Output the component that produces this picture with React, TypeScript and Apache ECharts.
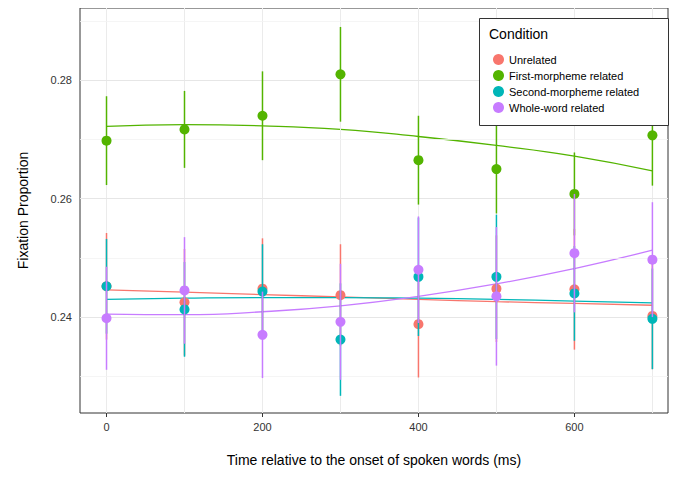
import { useEffect, useRef } from 'react';
import * as echarts from 'echarts';

const times = [0, 100, 200, 300, 400, 500, 600, 700];
const conditions = ['Unrelated', 'First-morpheme related', 'Second-morpheme related', 'Whole-word related'];
const colors = ['#F8766D', '#53B400', '#00B6B8', '#C77CFF'];

const meanUnrelated = [0.2452, 0.2425, 0.2448, 0.2437, 0.2388, 0.2448, 0.2447, 0.2402];
const errUnrelated = [0.009, 0.009, 0.0085, 0.0086, 0.009, 0.009, 0.0102, 0.009];
const meanFirst = [0.2698, 0.2717, 0.2740, 0.2810, 0.2665, 0.2650, 0.2608, 0.2707];
const errFirst = [0.0075, 0.0065, 0.0075, 0.008, 0.0075, 0.0075, 0.007, 0.0085];
const meanSecond = [0.2452, 0.2413, 0.2443, 0.2362, 0.2468, 0.2468, 0.2440, 0.2397];
const errSecond = [0.008, 0.008, 0.008, 0.0095, 0.01, 0.0105, 0.008, 0.0085];
const meanWhole = [0.2398, 0.2445, 0.2370, 0.2392, 0.2480, 0.2435, 0.2508, 0.2497];
const errWhole = [0.0087, 0.009, 0.0073, 0.0098, 0.009, 0.0117, 0.01, 0.0097];

const fitUnrelated = [0.2446, 0.2442, 0.2438, 0.2434, 0.2430, 0.2426, 0.2423, 0.2420];
const fitFirst = [0.2722, 0.2725, 0.2723, 0.2717, 0.2705, 0.2690, 0.2672, 0.2647];
const fitSecond = [0.2430, 0.2432, 0.2433, 0.2433, 0.2432, 0.2430, 0.2427, 0.2424];
const fitWhole = [0.2405, 0.2404, 0.2409, 0.2419, 0.2435, 0.2456, 0.2482, 0.2513];

const means = [meanUnrelated, meanFirst, meanSecond, meanWhole];
const errs = [errUnrelated, errFirst, errSecond, errWhole];
const fits = [fitUnrelated, fitFirst, fitSecond, fitWhole];

const xTicks = [0, 200, 400, 600];
const yTicks = [0.24, 0.26, 0.28];
const xGrid = [0, 100, 200, 300, 400, 500, 600, 700];
const yGrid = [0.23, 0.24, 0.25, 0.26, 0.27, 0.28, 0.29];

export default function App() {
  const ref = useRef<HTMLDivElement>(null);

  useEffect(() => {
    if (!ref.current) return;
    const chart = echarts.init(ref.current, undefined, { renderer: 'svg' });
    const font = 'Liberation Sans, Arial, sans-serif';

    const pointSeries = conditions.map((name, i) => ({
      name,
      type: 'custom' as const,
      z: 5,
      itemStyle: { color: colors[i] },
      data: times.map((t, j) => [t, means[i][j], means[i][j] - errs[i][j], means[i][j] + errs[i][j]]),
      renderItem: (params: any, api: any) => {
        const p = api.coord([api.value(0), api.value(1)]);
        const lo = api.coord([api.value(0), api.value(2)]);
        const hi = api.coord([api.value(0), api.value(3)]);
        return {
          type: 'group',
          children: [
            { type: 'line', shape: { x1: lo[0], y1: lo[1], x2: hi[0], y2: hi[1] }, style: { stroke: colors[i], lineWidth: 1.5 } },
            { type: 'circle', shape: { cx: p[0], cy: p[1], r: 5 }, style: { fill: colors[i] } },
          ],
        };
      },
    }));

    const fitSeries = conditions.map((name, i) => ({
      name,
      type: 'line' as const,
      smooth: true,
      symbol: 'none',
      z: 4,
      lineStyle: { color: colors[i], width: 1.3 },
      itemStyle: { color: colors[i] },
      data: times.map((t, j) => [t, fits[i][j]]),
    }));

    const gridSeries = {
      type: 'line' as const,
      data: [],
      silent: true,
      z: 1,
      markLine: {
        symbol: 'none',
        silent: true,
        label: { show: false },
        lineStyle: { color: '#ebebeb', width: 1, type: 'solid' },
        data: [
          ...xGrid.map(x => ({ xAxis: x })),
          ...yGrid.map(y => ({ yAxis: y, lineStyle: { color: yTicks.includes(y) ? '#e6e6e6' : '#f2f2f2', width: yTicks.includes(y) ? 1.2 : 0.8 } })),
        ],
      },
    };

    chart.setOption({
      animation: false,
      textStyle: { fontFamily: font },
      grid: { left: 65, right: 12, top: 0, bottom: 54, show: true, borderColor: '#333', borderWidth: 1 },
      xAxis: {
        type: 'value', min: -34, max: 720,
        name: 'Time relative to the onset of spoken words (ms)', nameLocation: 'middle', nameGap: 40,
        nameTextStyle: { fontSize: 14, color: '#000', fontFamily: font },
        axisLine: { show: false },
        axisTick: { show: true, customValues: xTicks, length: 4, lineStyle: { color: '#333' } },
        axisLabel: { customValues: xTicks, color: '#333', fontSize: 11, margin: 8 },
        splitLine: { show: false },
      },
      yAxis: {
        type: 'value', min: 0.2238, max: 0.2922,
        name: 'Fixation Proportion', nameLocation: 'middle', nameGap: 50,
        nameTextStyle: { fontSize: 14, color: '#000', fontFamily: font },
        axisLine: { show: false },
        axisTick: { show: true, customValues: yTicks, length: 4, lineStyle: { color: '#333' } },
        axisLabel: { customValues: yTicks, color: '#333', fontSize: 11, formatter: (v: number) => v.toFixed(2) },
        splitLine: { show: false },
      },
      legend: {
        data: conditions.map(name => ({ name, icon: 'circle' })),
        orient: 'vertical', left: 480, top: 41, itemGap: 5, itemWidth: 11, itemHeight: 11,
        textStyle: { fontSize: 11, color: '#000', fontFamily: font },
        selectedMode: false,
        z: 20,
      },
      graphic: [
        { type: 'rect', left: 471, top: 10, shape: { width: 189, height: 107 }, style: { fill: '#fff', stroke: '#333', lineWidth: 1 }, z: 10 },
        { type: 'text', left: 481, top: 19, style: { text: 'Condition', fontSize: 14, fill: '#000', fontFamily: font }, z: 11 },
      ],
      series: [gridSeries, ...fitSeries, ...pointSeries],
    });
    return () => chart.dispose();
  }, []);

  return <div ref={ref} style={{ width: 672, height: 464 }} />;
}
